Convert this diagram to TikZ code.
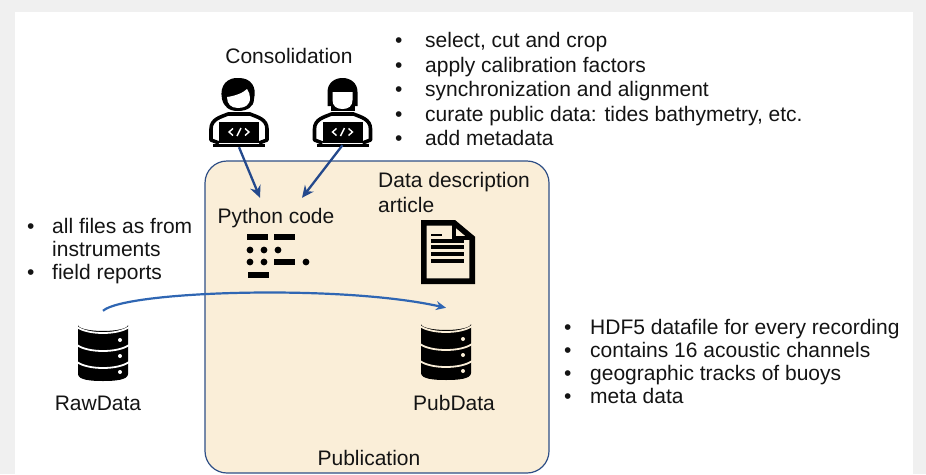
\documentclass[tikz,border=0pt]{standalone}
\usepackage{fontspec}
\usepackage{xcolor}
\setmainfont{Liberation Sans}
\usetikzlibrary{positioning,arrows.meta}
\definecolor{pagegray}{HTML}{F0F0F0}
\definecolor{pubcream}{HTML}{FAEED8}
\definecolor{boxblue}{HTML}{2F4F86}
\definecolor{codeblue}{HTML}{24498C}
\definecolor{flowblue}{HTML}{2F66B3}
\definecolor{inkblack}{HTML}{141414}
\newcommand{\listrow}[1]{\textbullet & #1 \\}
\tikzset{
  label/.style={text=inkblack, font=\fontsize{21}{24.6}\selectfont, inner sep=0pt},
  listbox/.style={label, anchor=north west},
  tightlist/.style={listbox, font=\fontsize{21}{23}\selectfont},
  iconbox/.style={inner sep=0pt},
  codearrow/.style={-{Stealth[length=12pt,width=11pt]}, line width=2.3pt, codeblue},
  flowarrow/.style={-{Stealth[length=10pt,width=9pt]}, line width=2.2pt, flowblue},
  pics/dbicon/.style={code={
    \fill[black] (-25,-25) arc[start angle=180, end angle=0, x radius=25, y radius=6]
      -- (25,24) .. controls (25,30) and (12,31) .. (0,31)
      .. controls (-12,31) and (-25,30) .. (-25,24) -- cycle;
    \foreach \yy in {-23,-5,12}
      \draw[#1, line width=1.8pt] (-26,\yy) .. controls (-15,\yy+8) and (15,\yy+8) .. (26,\yy);
    \foreach \yy in {-10,6,22}
      \fill[#1] (17,\yy) circle[radius=2];
  }},
  pics/laptop/.style={code={
    \fill[black] (-20,12) rectangle (20,33);
    \draw[black, line width=3pt] (-26,35) -- (26,35);
    \draw[black, line width=3.6pt, line join=round] (-20,33) -- (-28,30) -- (-28,19)
      .. controls (-28,9) and (-18,7) .. (-11,4) -- (11,4)
      .. controls (18,7) and (28,9) .. (28,19) -- (28,30) -- (20,33);
    \draw[white, line width=1.4pt] (-6,18.5) -- (-10,22) -- (-6,25.5)
      (6,18.5) -- (10,22) -- (6,25.5) (2,18) -- (-2,26);
  }},
  pics/coderman/.style={code={
    \pic {laptop};
    \fill[black] (-17,-11) .. controls (-20,-25) and (-11,-33) .. (0,-32)
      .. controls (12,-32) and (18,-23) .. (15,-11)
      .. controls (15,-3) and (8,1) .. (-1,1)
      .. controls (-10,1) and (-15,-3) .. (-17,-11) -- cycle;
    \fill[white] (-12,-13) .. controls (-4,-14) and (4,-17) .. (8,-21)
      .. controls (10,-18) and (11,-15) .. (11,-12)
      .. controls (11,-5) and (6,-2) .. (-1,-2)
      .. controls (-8,-2) and (-12,-6) .. (-12,-13) -- cycle;
  }},
  pics/coderwoman/.style={code={
    \pic {laptop};
    \fill[black] (-15,-4) -- (-15,-18) .. controls (-15,-27) and (-8,-32) .. (0,-32)
      .. controls (8,-32) and (15,-27) .. (15,-18) -- (15,-4) -- (10,-4) -- (-10,-4) -- cycle;
    \fill[black] (-12,-4) rectangle (12,1);
    \fill[white] (-10,-18) -- (10,-18) -- (10,-10)
      .. controls (10,-4) and (6,-1) .. (0,-1)
      .. controls (-6,-1) and (-10,-4) .. (-10,-10) -- cycle;
  }},
  pics/docicon/.style={code={
    \draw[black, line width=5.6pt, line join=miter] (-24.2,-29.2) -- (6,-29.2) -- (24.2,-14) -- (24.2,29.2) -- (-24.2,29.2) -- cycle;
    \draw[black, line width=3.8pt] (6,-30) -- (6,-14) -- (25,-14);
    \draw[black, line width=2.6pt] (-17,-17) -- (-6,-17);
    \foreach \yy in {-11,-5,2,9}
      \draw[black, line width=3.2pt] (-17,\yy) -- (16,\yy);
  }},
  pics/codeicon/.style={code={
    \foreach \xa/\ya in {-29/-19,-2/-19,-2/6,-28/19}
      \fill[black] (\xa,\ya-3) rectangle +(21,6);
    \foreach \xa/\ya in {-26/-6,-12/-6,2/-6,-26/6,-12/6,30/6}
      \fill[black] (\xa,\ya) circle[radius=3.4];
  }}
}
\begin{document}
\begin{tikzpicture}[x=1pt, y=-1pt]
    \useasboundingbox (0,0) rectangle (926,474);
    % Page
    \fill[pagegray] (0,0) rectangle (926,474);
    \fill[white] (15,12) rectangle (913,474);
    \filldraw[fill=pubcream, draw=boxblue, line width=1.2pt, rounded corners=22pt] (205,161) rectangle (549,473);

    % Consolidation
    \node (consolidation) [label] at (289,56) {Consolidation};
    \node (coderA) [iconbox, minimum width=60pt, minimum height=74pt] at (239,110) {};
    \node (coderB) [iconbox, minimum width=60pt, minimum height=70pt] at (342.5,110) {};
    \pic at (coderA) {coderman};
    \pic at (coderB) {coderwoman};
    \node (stepsList) [listbox] at (395,30) {\begin{tabular}{@{}p{30pt}@{}l@{}}
      \listrow{select, cut and crop}
      \listrow{apply calibration factors}
      \listrow{synchronization and alignment}
      \listrow{curate public data: tides bathymetry, etc.}
      \listrow{add metadata}
    \end{tabular}};

    % Publication
    \node (pycode) [label, minimum height=40pt] at (276,218) {Python code};
    \node (codeicon) [iconbox, minimum width=60pt, minimum height=44pt] at (276,256) {};
    \pic at (codeicon) {codeicon};
    \node (article) [label, anchor=north west, align=left] at (378,172) {Data description\\article};
    \node (docicon) [iconbox, minimum width=54pt, minimum height=64pt] at (448,252) {};
    \pic at (docicon) {docicon};
    \node (pubdb) [iconbox, minimum width=50pt, minimum height=82pt] at (446,349) {};
    \pic at (pubdb) {dbicon=pubcream};
    \node (pubdata) [label] at (454,403) {PubData};
    \node (publication) [label] at (369,458) {Publication};

    % Raw data
    \node (rawlist) [tightlist] at (27,217) {\begin{tabular}{@{}p{25pt}@{}l@{}}
      \listrow{all files as from}
      & instruments \\
      \listrow{field reports}
    \end{tabular}};
    \node (rawdb) [iconbox, minimum width=50pt, minimum height=78pt] at (103,350) {};
    \pic at (rawdb) {dbicon=white};
    \node (rawdata) [label] at (98,403) {RawData};

    % Published file contents
    \node (pubList) [tightlist] at (564,318) {\begin{tabular}{@{}p{26pt}@{}l@{}}
      \listrow{HDF5 datafile for every recording}
      \listrow{contains 16 acoustic channels}
      \listrow{geographic tracks of buoys}
      \listrow{meta data}
    \end{tabular}};

    % Arrows
    \draw[codearrow] (coderA.south) -- ([xshift=-16pt]pycode.north);
    \draw[codearrow] (coderB.south) -- ([xshift=26pt]pycode.north);
    \draw[flowarrow] (rawdb.north) .. controls (125,291) and (340,284) .. (pubdb.north);
\end{tikzpicture}
\end{document}
